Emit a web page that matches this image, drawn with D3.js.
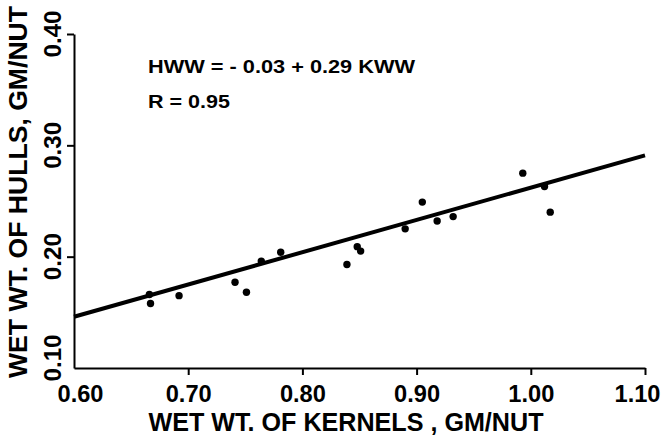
<!DOCTYPE html>
<html>
<head>
<meta charset="utf-8">
<script src="https://cdn.jsdelivr.net/npm/d3@7"></script>
<style>
  body { margin: 0; background: #fff; }
  text { font-family: "Liberation Sans", sans-serif; fill: #000; }
</style>
</head>
<body>
<script>
// wet weight of kernels (x) and hulls (y), gm per nut
var kernelWt = [0.666, 0.667, 0.692, 0.741, 0.751, 0.764, 0.781, 0.839, 0.848, 0.851,
                0.890, 0.905, 0.918, 0.932, 0.993, 1.012, 1.017];
var hullWt   = [0.166, 0.158, 0.165, 0.177, 0.168, 0.196, 0.204, 0.193, 0.209, 0.205,
                0.225, 0.249, 0.232, 0.236, 0.275, 0.263, 0.240];

// regression line end points
var fitX = [0.60, 1.10];
var fitY = [0.146, 0.291];

var xTicks = [0.60, 0.70, 0.80, 0.90, 1.00, 1.10];
var yTicks = [0.10, 0.20, 0.30, 0.40];

var xTitle = "WET WT. OF KERNELS , GM/NUT";
var yTitle = "WET WT. OF HULLS, GM/NUT";
var eqText = "HWW = - 0.03 + 0.29 KWW";
var rText = "R = 0.95";

var svg = d3.select("body").append("svg").attr("width", 662).attr("height", 436);

var margin = {top: 34, right: 17, bottom: 68, left: 74},
    width = 662 - margin.left - margin.right,
    height = 436 - margin.top - margin.bottom,
    g = svg.append("g").attr("transform", "translate(" + margin.left + "," + margin.top + ")");

var x = d3.scaleLinear().domain([0.60, 1.10]).range([0, width]);
var y = d3.scaleLinear().domain([0.10, 0.40]).range([height, 0]);

// x axis
var xAxis = g.append("g")
    .attr("transform", "translate(0," + height + ")")
    .call(d3.axisBottom(x).tickValues(xTicks).tickSize(7).tickSizeOuter(0).tickPadding(10)
          .tickFormat(d3.format(".2f")));
xAxis.select(".domain").attr("stroke-width", 2);
xAxis.selectAll(".tick line").attr("stroke-width", 2)
    .filter(function(d) { return d === 0.60; }).remove();
xAxis.selectAll(".tick text")
    .attr("font-size", 24).attr("font-weight", "bold")
    .attr("textLength", 46).attr("lengthAdjust", "spacingAndGlyphs")
    .attr("dx", function(d) { return d === 0.60 ? 6 : (d === 1.10 ? -8 : 0); });

// y axis, labels drawn rotated
var yAxis = g.append("g")
    .call(d3.axisLeft(y).tickValues(yTicks).tickSize(7).tickSizeOuter(0).tickFormat(""));
yAxis.select(".domain").attr("stroke-width", 2);
yAxis.selectAll(".tick line").attr("stroke-width", 2)
    .filter(function(d) { return d === 0.10; }).remove();

g.selectAll(".ylab")
  .data(yTicks)
  .enter().append("text")
    .attr("class", "ylab")
    .attr("transform", function(d) {
      return "translate(-13," + (y(d) - (d === 0.10 ? 10 : 0)) + ") rotate(-90)";
    })
    .attr("text-anchor", "middle")
    .attr("font-size", 24)
    .attr("font-weight", "bold")
    .attr("textLength", 47).attr("lengthAdjust", "spacingAndGlyphs")
    .text(function(d) { return d3.format(".2f")(d); });

// axis titles
svg.append("text")
    .attr("x", 346).attr("y", 431)
    .attr("text-anchor", "middle")
    .attr("font-size", 26)
    .attr("font-weight", "bold")
    .attr("textLength", 395).attr("lengthAdjust", "spacingAndGlyphs")
    .text(xTitle);

svg.append("text")
    .attr("transform", "translate(27,192) rotate(-90)")
    .attr("text-anchor", "middle")
    .attr("font-size", 26)
    .attr("font-weight", "bold")
    .attr("textLength", 372).attr("lengthAdjust", "spacingAndGlyphs")
    .text(yTitle);

// regression line
var fitLine = d3.line()
    .x(function(d, i) { return x(fitX[i]); })
    .y(function(d, i) { return y(fitY[i]); });

g.append("path")
    .datum(fitX)
    .attr("fill", "none")
    .attr("stroke", "#000")
    .attr("stroke-width", 4)
    .attr("d", fitLine);

// points
g.selectAll(".dot")
  .data(kernelWt)
  .enter().append("circle")
    .attr("class", "dot")
    .attr("cx", function(d) { return x(d); })
    .attr("cy", function(d, i) { return y(hullWt[i]); })
    .attr("r", 3.7)
    .attr("fill", "#000");

// equation
svg.append("text")
    .attr("x", 148).attr("y", 73)
    .attr("font-size", 19).attr("font-weight", "bold")
    .attr("textLength", 267).attr("lengthAdjust", "spacingAndGlyphs")
    .text(eqText);

svg.append("text")
    .attr("x", 148).attr("y", 108)
    .attr("font-size", 19).attr("font-weight", "bold")
    .attr("textLength", 82).attr("lengthAdjust", "spacingAndGlyphs")
    .text(rText);
</script>
</body>
</html>
